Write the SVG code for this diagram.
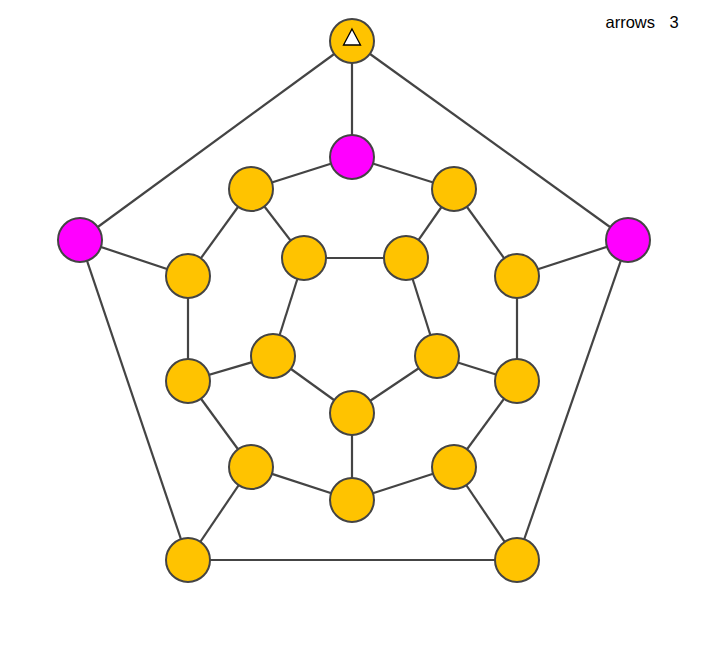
<svg xmlns="http://www.w3.org/2000/svg" width="711" height="664" viewBox="0 0 711 664">
<style>
.e{stroke:#444;stroke-width:2.2;fill:none}
.n{fill:#FFC300;stroke:#444;stroke-width:2}
.m{fill:#FF00FF;stroke:#444;stroke-width:2}
.t{font-family:"Liberation Sans",Arial,sans-serif;font-size:16.5px;fill:#000}
</style>
<rect width="711" height="664" fill="#fff"/>
<g id="connectors">
<line class="e" x1="352" y1="41" x2="80" y2="240"/>
<line class="e" x1="352" y1="41" x2="628" y2="240"/>
<line class="e" x1="352" y1="41" x2="352" y2="157"/>
<line class="e" x1="80" y1="240" x2="188" y2="276"/>
<line class="e" x1="80" y1="240" x2="188" y2="560"/>
<line class="e" x1="628" y1="240" x2="517" y2="276"/>
<line class="e" x1="628" y1="240" x2="517" y2="560"/>
<line class="e" x1="188" y1="560" x2="517" y2="560"/>
<line class="e" x1="188" y1="560" x2="251" y2="467"/>
<line class="e" x1="517" y1="560" x2="454" y2="467"/>
<line class="e" x1="352" y1="157" x2="251" y2="189"/>
<line class="e" x1="352" y1="157" x2="454" y2="189"/>
<line class="e" x1="251" y1="189" x2="188" y2="276"/>
<line class="e" x1="454" y1="189" x2="517" y2="276"/>
<line class="e" x1="188" y1="276" x2="188" y2="381"/>
<line class="e" x1="517" y1="276" x2="517" y2="381"/>
<line class="e" x1="188" y1="381" x2="251" y2="467"/>
<line class="e" x1="517" y1="381" x2="454" y2="467"/>
<line class="e" x1="251" y1="467" x2="352" y2="500"/>
<line class="e" x1="454" y1="467" x2="352" y2="500"/>
<line class="e" x1="251" y1="189" x2="304" y2="258"/>
<line class="e" x1="454" y1="189" x2="406" y2="258"/>
<line class="e" x1="188" y1="381" x2="273" y2="356"/>
<line class="e" x1="517" y1="381" x2="437" y2="356"/>
<line class="e" x1="352" y1="500" x2="352" y2="413"/>
<line class="e" x1="304" y1="258" x2="406" y2="258"/>
<line class="e" x1="304" y1="258" x2="273" y2="356"/>
<line class="e" x1="406" y1="258" x2="437" y2="356"/>
<line class="e" x1="273" y1="356" x2="352" y2="413"/>
<line class="e" x1="437" y1="356" x2="352" y2="413"/>
</g>
<g id="n0"><circle class="n" cx="352" cy="41" r="22"/><polygon points="352,29 360.5,45 343.5,45" fill="#fff" stroke="#000" stroke-width="1.3"/></g>
<g id="n1"><circle class="m" cx="80" cy="240" r="22"/></g>
<g id="n2"><circle class="m" cx="628" cy="240" r="22"/></g>
<g id="n3"><circle class="n" cx="188" cy="560" r="22"/></g>
<g id="n4"><circle class="n" cx="517" cy="560" r="22"/></g>
<g id="n5"><circle class="m" cx="352" cy="157" r="22"/></g>
<g id="n6"><circle class="n" cx="251" cy="189" r="22"/></g>
<g id="n7"><circle class="n" cx="454" cy="189" r="22"/></g>
<g id="n8"><circle class="n" cx="188" cy="276" r="22"/></g>
<g id="n9"><circle class="n" cx="517" cy="276" r="22"/></g>
<g id="n10"><circle class="n" cx="188" cy="381" r="22"/></g>
<g id="n11"><circle class="n" cx="517" cy="381" r="22"/></g>
<g id="n12"><circle class="n" cx="251" cy="467" r="22"/></g>
<g id="n13"><circle class="n" cx="454" cy="467" r="22"/></g>
<g id="n14"><circle class="n" cx="352" cy="500" r="22"/></g>
<g id="n15"><circle class="n" cx="304" cy="258" r="22"/></g>
<g id="n16"><circle class="n" cx="406" cy="258" r="22"/></g>
<g id="n17"><circle class="n" cx="273" cy="356" r="22"/></g>
<g id="n18"><circle class="n" cx="437" cy="356" r="22"/></g>
<g id="n19"><circle class="n" cx="352" cy="413" r="22"/></g>
<g id="label"><text class="t" x="605.5" y="28">arrows</text><text class="t" x="669.5" y="28">3</text></g>
</svg>
